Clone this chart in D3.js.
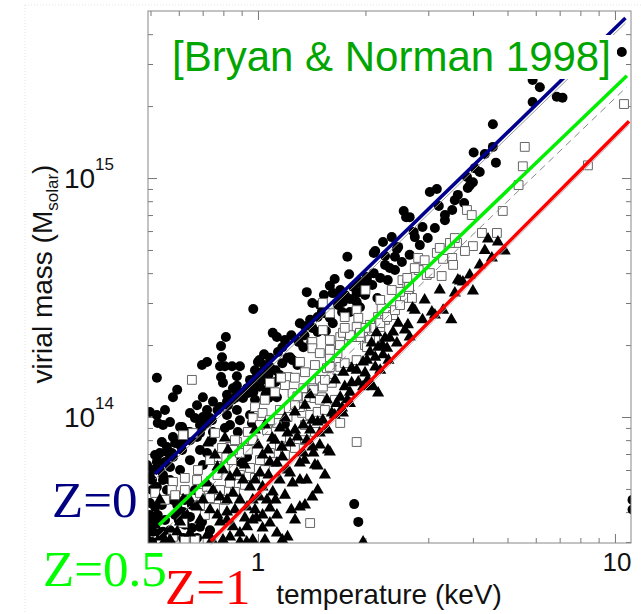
<!DOCTYPE html>
<html><head><meta charset="utf-8">
<script src="https://cdn.jsdelivr.net/npm/d3@7"></script>
<style>body{margin:0;background:#fff}</style>
</head><body>
<svg id="c" width="641" height="614"></svg>
<script>
// temperature (keV), virial mass (units of 1e14 M_solar)
const z0Points = [[10.45,33.7],[5.88,25.7],[6.16,24.0],[5.88,20.8],[6.87,21.9],[7.13,21.7],[4.55,16.8],[4.02,12.8],[4.32,12.6],[4.55,13.5],[4.64,11.6],[4.05,11.0],[3.85,10.1],[3.97,9.53],[3.87,9.08],[3.03,8.74],[3.17,9.0],[3.56,8.08],[3.78,7.86],[3.21,7.64],[2.56,7.28],[2.60,6.86],[3.34,6.66],[2.89,6.24],[2.73,5.95],[2.75,5.66],[2.24,5.40],[2.37,5.66],[2.13,4.95],[2.45,5.05],[2.42,4.68],[2.27,4.33],[2.34,4.20],[1.78,4.68],[2.11,4.0],[2.02,3.85],[1.93,3.67],[1.80,3.96],[1.64,3.78],[1.59,3.54],[1.70,3.40],[1.85,3.50],[1.89,3.30],[2.16,3.15],[1.37,3.33],[2.66,6.86],[2.47,5.15],[2.11,4.86],[2.27,4.72],[2.02,3.72],[1.93,2.88],[3.92,9.3],[4.0,9.6],
[1.53,3.24],[1.62,3.30],[1.70,3.18],[1.73,3.03],[1.81,3.12],[1.89,3.03],[1.95,3.34],[1.97,3.50],[1.49,2.94],[1.42,3.0],[1.81,2.75],[1.72,2.75],[0.97,2.83],[1.54,2.72],[1.59,2.60],[1.62,2.47],[1.47,2.62],[1.40,2.55],[1.42,2.36],[1.31,2.47],[1.47,2.27],[1.55,2.29],[1.10,2.25],[1.13,2.16],[1.17,1.96],[1.35,2.20],[1.41,2.06],[1.34,1.96],[1.04,1.83],[1.01,1.73],[1.04,1.65],[1.23,1.78],[1.25,1.73],[1.21,1.77],[1.17,1.68],[1.29,1.65],[1.08,1.62],[1.12,1.57],[1.15,1.50],[1.07,1.50],[0.99,1.47],[1.03,1.43],[1.12,1.40],[1.01,1.34],[0.97,1.27],[1.05,1.24],[1.07,1.20],[1.13,1.21],
[0.813,2.16],[0.788,1.98],[0.793,1.78],[0.697,1.65],[0.720,1.70],[0.783,1.63],[0.808,1.63],[0.846,1.63],[0.89,1.63],[1.0,1.70],[0.521,1.46],[0.788,1.47],[0.798,1.39],[0.873,1.48],[0.594,1.30],[0.578,1.21],[0.701,1.21],[0.873,1.35],[0.95,1.43],[0.932,1.32],[0.981,1.34],[0.819,1.24],[0.846,1.18],[0.873,1.24],[0.908,1.20],[0.937,1.26],[0.981,1.18],[0.675,1.12],
[0.967,1.39],[1.06,1.30],[0.851,1.32],[0.89,1.26],[0.819,1.16],[0.748,1.16],[0.521,1.02],[0.549,1.07],[0.542,0.926],[0.613,0.908],[0.633,0.866],[0.578,0.825],[0.701,1.0],[0.720,0.944],[0.688,0.857],[0.748,0.866],[0.531,0.707],[0.556,0.714],[0.521,0.68],[0.578,0.68],[0.567,0.618],[0.508,0.60],[0.542,0.572],[0.505,0.545],[0.521,0.51],[0.556,0.495],[0.498,0.437],[0.515,0.42],[0.578,0.45],[0.505,0.371],[0.531,0.327],[0.578,0.327],[0.617,0.312],[0.505,0.30],[0.645,0.382],[0.688,0.347],[0.675,0.312],
[0.498,1.05],[0.524,0.944],[0.567,0.952],[0.605,0.908],[0.645,1.04],[0.666,0.99],[0.72,1.07],[0.697,0.908],[0.743,0.97],[0.783,1.10],[0.819,1.02],[0.873,1.07],[0.89,0.97],[0.835,0.926],[0.95,1.02],[0.962,0.944],[0.878,0.866],[0.538,0.786],[0.556,0.749],[0.586,0.778],[0.617,0.786],[0.645,0.80],[0.675,0.825],[0.574,0.707],[0.613,0.728],[0.515,0.694],[0.489,0.63],[0.521,0.648],[0.549,0.648],[0.72,0.707],[0.701,0.63],[0.498,0.561],[0.542,0.545],[0.498,0.389],[0.524,0.389],[0.498,0.354],[0.508,0.331],[0.542,0.331],[0.60,0.371],[0.617,0.40],[0.697,0.364],[0.89,0.648],[0.932,0.68],
[1.19,0.935],[1.86,0.432],[1.91,0.364],[11.2,0.45],[11.2,0.41],
[0.531,0.60],[0.567,0.694],[0.605,0.763],[0.645,0.866],[0.688,0.926],[0.734,0.99],[0.77,1.07],[0.824,1.12],[0.862,1.20],[0.919,1.27],[0.505,0.495],[0.538,0.428],[0.549,0.371],[0.586,0.389],[0.624,0.354],[0.653,0.428],[0.594,0.428],[0.734,0.336],
[0.981,1.57],[1.026,1.54],[1.08,1.77],[1.138,1.87],[1.19,2.1],[1.24,2.2],[1.30,2.06],[1.354,2.4],[1.51,2.75],[1.675,2.94],[1.753,3.24],[1.87,3.09],[1.995,3.24],[2.09,3.57],[2.20,3.82],[2.31,3.74],[2.42,4.12],[2.53,4.45],[2.66,4.77],[2.84,5.24],[2.99,5.61],[3.13,6.18],[3.34,7.0],[3.50,7.35],[3.63,8.5],[4.18,10.6],
[0.567,0.545],[0.605,0.60],[0.645,0.66],[0.688,0.728],[0.743,0.80],[0.808,0.90],[0.624,0.45],[0.666,0.495],[0.531,0.371],[0.567,0.336],[0.653,0.343]];

const z05Points = [[10.6,20.4],[5.59,13.5],[5.52,11.2],[5.37,9.34],[4.85,7.28],[8.4,11.3],[3.85,7.35],[3.97,7.0],[4.24,5.89],[4.67,5.89],[3.61,5.35],[4.0,5.19],[3.80,4.95],[2.81,4.63],[3.17,4.86],[3.30,4.59],[3.50,4.63],[3.52,4.33],[2.82,4.12],[2.97,3.93],[3.27,3.89],[2.54,3.74],[2.62,3.64],[2.65,3.30],[2.58,3.15],[2.0,3.40],[3.45,5.35],[3.03,4.0],[2.62,3.82],[2.65,3.50],[2.50,3.34],[2.70,3.15],[2.22,2.86],[2.30,2.75],[2.39,2.67],[2.17,2.62],[2.27,2.55],[2.06,2.43],[2.13,2.36],[2.20,2.38],[1.995,2.36],[1.97,2.16],[2.03,2.06],[2.13,2.10],[1.995,2.0],[1.89,2.80],[1.75,2.62],[1.52,2.31],[1.70,2.16],[1.93,2.16],[1.42,2.06],[1.42,1.94],[1.49,1.85],[1.59,1.78],[1.67,1.85],[1.89,1.73],[1.78,1.62],[1.56,1.60],[1.67,1.57],[1.21,1.47],[1.49,1.43],[1.52,1.34],[1.61,1.39],[1.34,1.32],[1.42,1.32],[1.25,1.26],[1.29,1.22],[1.37,1.21],[1.44,1.20],[1.51,1.21],[0.967,0.99],[1.33,1.04],[1.40,1.02],[1.47,1.05],[1.70,0.944],[1.89,0.786],[1.40,0.36],[0.981,1.10],[1.03,1.04],[0.617,0.84],[0.657,0.857],[0.758,0.857],[0.835,0.749],[0.873,0.786],[0.908,0.742],[0.578,0.535],[0.574,0.495],[0.624,0.495],[0.688,0.481],[0.72,0.51],[0.770,0.572],[0.808,0.618],[0.846,0.66],[0.89,0.707],[0.937,0.728],[0.617,0.36],[0.624,0.303],[0.666,0.306],[0.578,0.315],[0.549,0.45],[0.515,0.481],[0.653,1.43],[0.675,0.545],[0.77,0.68],[0.851,0.728],[0.967,0.80],[1.06,0.882],[1.13,0.944],[1.21,1.0],[1.31,1.10],[1.43,1.30],[1.52,3.0],[1.59,2.72],[1.73,2.25],[1.83,2.16],[1.89,2.38],[1.93,2.25],[2.06,2.10],[2.20,2.47],[2.30,2.62],[2.42,2.80],[2.50,2.94],[2.02,1.96],[1.70,1.62],[1.75,1.68],[1.59,1.62],[1.54,1.43],[1.49,1.18],
[0.688,0.428],[0.734,0.458],[0.783,0.495],[0.835,0.53],[0.89,0.572],[0.95,0.612],[1.013,0.66],[1.08,0.707],[1.152,0.756],[1.229,0.817],[0.71,0.389],[0.758,0.416],[0.808,0.45],[0.862,0.486],[0.919,0.52],[0.981,0.556],[1.046,0.60],[1.116,0.648],[1.19,0.694],[1.269,0.742],[1.354,0.80],[1.444,0.866],[1.08,0.97],[1.152,1.07],[1.27,1.12],[1.354,0.926],[1.54,1.07],[1.643,1.18],
[1.046,1.18],[1.116,1.27],[1.19,1.36],[1.269,1.46],[1.354,1.54],[1.444,1.65],[1.591,1.91],[1.697,2.0],[1.81,2.2],[1.013,0.926],[0.937,0.866],[0.862,0.80],[0.793,0.742],[0.734,0.66],[0.679,0.60],[0.624,0.556],[0.586,0.471],
[1.08,1.39],[1.16,1.46],[1.311,1.70],[1.59,2.10],[1.75,2.36],[1.91,2.6],[2.2,3.09],[2.37,3.4],[2.75,4.2],[2.93,4.53],[3.23,5.1],[3.56,5.61]];

const z1Points = [[4.41,5.56],[4.70,5.40],[4.91,4.95],[4.52,4.63],[3.68,3.71],[4.0,3.37],[3.56,3.30],[3.63,3.74],[3.75,3.67],[3.07,2.75],[3.13,2.67],[3.30,2.80],[3.48,2.55],[2.89,2.55],[2.71,2.86],[2.47,2.47],[2.63,2.43],[2.58,2.31],[2.39,2.27],[2.34,2.14],[2.66,2.16],[2.45,2.04],[2.17,1.96],[2.30,1.94],[2.06,1.87],[2.13,1.78],[2.24,1.82],[2.32,1.73],[2.02,1.73],[2.13,1.62],[2.20,1.57],[1.995,1.53],[2.03,1.43],[2.10,1.34],[2.17,1.26],[1.97,1.34],[2.27,2.14],[2.15,2.25],[2.08,2.04],[2.23,2.0],[1.97,1.70],[1.89,1.57],[1.91,1.40],[2.06,1.36],[1.83,1.39],[1.75,1.34],[1.81,1.27],[1.70,1.21],[1.78,1.18],[1.66,1.14],[1.72,1.09],[1.56,1.18],[1.61,1.04],[1.52,0.97],[1.57,0.882],[1.49,0.857],[1.59,0.714],[1.34,0.926],[1.42,0.97],[1.47,0.952],[1.64,1.02],[1.73,1.04],[1.81,1.14],[1.21,0.857],[1.29,0.825],[1.23,0.778],[1.37,0.80],[1.42,0.749],[1.34,0.707],[1.35,0.66],[1.57,0.728],[1.47,0.624],[1.17,0.68],[1.13,0.642],[1.08,0.648],[1.23,0.583],[1.25,0.53],[1.15,0.545],[1.07,0.572],[1.03,0.51],[1.10,0.486],[1.01,0.463],[1.12,0.45],[1.24,0.409],[1.31,0.42],[1.13,0.389],[1.03,0.389],[1.08,0.36],[0.99,0.378],[1.03,0.343],[1.21,0.315],[0.967,0.306],[0.89,0.30],[0.93,0.30],[0.808,0.817],[0.724,0.778],[0.77,0.618],[0.798,0.60],[0.835,0.561],[0.873,0.583],[0.908,0.545],[0.95,0.51],[0.981,0.545],[0.72,0.53],[0.748,0.495],[0.783,0.463],[0.819,0.45],[0.851,0.481],[0.89,0.45],[0.932,0.42],[0.967,0.45],[0.645,0.45],[0.675,0.42],[0.701,0.45],[0.734,0.409],[0.77,0.389],[0.819,0.371],[0.851,0.347],[0.89,0.327],[0.932,0.347],[0.967,0.371],[0.617,0.45],[0.605,0.409],[0.594,0.331],[0.645,0.327],[0.72,0.32],[0.798,0.306],[0.835,0.315],[0.489,0.315],[0.531,0.315],[0.567,0.306],[0.531,0.45],[0.489,0.336],[0.819,0.40],[1.06,0.45],[1.17,0.306],[1.37,0.545],[1.43,0.707],[1.31,0.642],[1.21,0.60],[1.42,0.463],[1.97,0.30],
[0.758,0.694],[0.824,0.728],[0.919,0.63],[1.013,0.583],[1.03,0.694],[1.116,0.80],[1.167,0.749],[1.27,0.882],[1.40,0.882],[1.49,0.763],[1.444,0.63],[1.311,0.545],[1.19,0.471],[1.08,0.416],[0.981,0.409],[0.919,0.378],[0.862,0.409],[0.783,0.364],[0.743,0.306],[0.688,0.371],[0.633,0.389],[1.046,0.306],[1.13,0.327],[1.27,0.371],[1.354,0.428],[1.47,0.495],[1.54,0.572],
[0.981,0.882],[1.046,0.926],[1.096,0.817],[1.152,0.90],[1.0,0.763],[1.067,0.728],[1.19,0.99],[1.269,1.05],[1.354,1.12],[1.398,1.24],[1.643,1.43],[1.735,1.54],[1.83,1.60],[2.75,2.8],[2.93,3.09],[3.23,3.40],[3.92,3.93],[4.18,4.33],[4.32,4.97],[0.515,0.354],[0.549,0.306],[0.605,0.364]];

// Bryan & Norman relations (endpoints, T keV, M 1e14)
const lineZ0 = [[0.515,0.577],[10.7,46.7]];
const lineZ05 = [[0.528,0.353],[10.8,26.8]];
const lineZ1 = [[0.738,0.303],[10.95,17.3]];
const fitZ0 = [[0.515,0.55],[10.7,44.5]];
const fitZ05 = [[0.528,0.318],[10.8,24.1]];
const fitZ1 = [[0.738,0.292],[10.95,16.7]];

const xMajor = [1, 10];
const xMinor = [0.5,0.6,0.7,0.8,0.9,2,3,4,5,6,7,8,9];
const yMajor = [1, 10];            // 1e14, 1e15
const yMajorLabels = [["10","14"],["10","15"]];
const yMinor = [0.3,0.4,0.5,0.6,0.7,0.8,0.9,2,3,4,5,6,7,8,9,20,30,40];

const svg = d3.select('#c');
const W = 641, H = 614;
const L = 148, R = 631, T = 11, B = 543;
const x = d3.scaleLog().domain([0.492, 11.09]).range([L, R]);
const y = d3.scaleLog().domain([0.297, 50]).range([B, T]);

svg.append('rect').attr('width', W).attr('height', H).attr('fill', '#fff');
svg.append('rect').attr('x', 25).attr('y', 5).attr('width', 640).attr('height', 640)
  .attr('fill', 'none').attr('stroke', '#e4e4e4').attr('stroke-dasharray', '1,2');

svg.append('defs').append('clipPath').attr('id', 'clip')
  .append('rect').attr('x', L).attr('y', T).attr('width', R - L).attr('height', B - T);

function ticks(axisFn, scale, vals, size, tr) {
  const g = svg.append('g').attr('transform', tr)
    .call(axisFn(scale).tickValues(vals).tickSize(size).tickFormat(''));
  g.select('.domain').remove();
  g.selectAll('line').attr('stroke', '#777').attr('stroke-width', 1);
}
ticks(d3.axisBottom, x, xMajor, -9, `translate(0,${B})`);
ticks(d3.axisBottom, x, xMinor, -5, `translate(0,${B})`);
ticks(d3.axisTop, x, xMajor, -9, `translate(0,${T})`);
ticks(d3.axisTop, x, xMinor, -5, `translate(0,${T})`);
ticks(d3.axisLeft, y, yMajor, -9, `translate(${L},0)`);
ticks(d3.axisLeft, y, yMinor, -5, `translate(${L},0)`);
ticks(d3.axisRight, y, yMajor, -9, `translate(${R},0)`);
ticks(d3.axisRight, y, yMinor, -5, `translate(${R},0)`);

const pts = svg.append('g').attr('clip-path', 'url(#clip)');
pts.selectAll('circle.z0').data(z0Points).enter().append('circle')
  .attr('cx', d => x(d[0])).attr('cy', d => y(d[1])).attr('r', 5).attr('fill', '#000');
const sq = d3.symbol().type(d3.symbolSquare).size(78);
pts.selectAll('path.z05').data(z05Points).enter().append('path')
  .attr('d', sq).attr('transform', d => `translate(${x(d[0])},${y(d[1])})`)
  .attr('fill', '#fff').attr('stroke', '#666').attr('stroke-width', 1);
const tri = d3.symbol().type(d3.symbolTriangle).size(64);
pts.selectAll('path.z1').data(z1Points).enter().append('path')
  .attr('d', tri).attr('transform', d => `translate(${x(d[0])},${y(d[1])})`)
  .attr('fill', '#000');

const line = d3.line().x(d => x(d[0])).y(d => y(d[1]));
svg.append('path').datum(fitZ0).attr('d', line).attr('stroke', '#999').attr('stroke-width', 1).attr('fill', 'none');
svg.append('path').datum(fitZ05).attr('d', line).attr('stroke', '#888').attr('stroke-width', 1).attr('stroke-dasharray', '7,5').attr('fill', 'none');
svg.append('path').datum(fitZ1).attr('d', line).attr('stroke', '#bbb').attr('stroke-width', 1).attr('fill', 'none');
svg.append('path').datum(lineZ0).attr('d', line).attr('stroke', '#00008c').attr('stroke-width', 3.5).attr('fill', 'none');
svg.append('path').datum(lineZ05).attr('d', line).attr('stroke', '#00ee00').attr('stroke-width', 3.5).attr('fill', 'none');
svg.append('path').datum(lineZ1).attr('d', line).attr('stroke', '#ff0000').attr('stroke-width', 3.5).attr('fill', 'none');

svg.append('rect').attr('x', L).attr('y', T).attr('width', R - L).attr('height', B - T)
  .attr('fill', 'none').attr('stroke', '#888').attr('stroke-width', 1);

const sans = "'Liberation Sans', Arial, Helvetica, sans-serif";
yMajor.forEach((v, i) => {
  const t = svg.append('text').attr('x', 114).attr('y', y(v) + 10)
    .attr('text-anchor', 'end').attr('font-family', sans).attr('font-size', 28).attr('fill', '#111');
  t.append('tspan').text(yMajorLabels[i][0]);
  t.append('tspan').attr('font-size', 17).attr('dy', -18).text(yMajorLabels[i][1]);
});
xMajor.forEach(v => {
  svg.append('text').attr('x', x(v) + (v === 10 ? 2 : 0)).attr('y', 571).attr('text-anchor', 'middle')
    .attr('font-family', sans).attr('font-size', 26).attr('fill', '#111').text(String(v));
});

svg.append('text').attr('x', 389).attr('y', 604).attr('text-anchor', 'middle')
  .attr('font-family', sans).attr('font-size', 28).attr('fill', '#111').text('temperature (keV)');
const yl = svg.append('text').attr('transform', 'translate(52,274) rotate(-90)').attr('text-anchor', 'middle')
  .attr('font-family', sans).attr('font-size', 28).attr('fill', '#111');
yl.append('tspan').text('virial mass (M');
yl.append('tspan').attr('font-size', 17).attr('dy', 6).text('solar');
yl.append('tspan').attr('dy', -6).text(')');

svg.append('rect').attr('x', 166).attr('y', 35).attr('width', 451).attr('height', 44).attr('fill', '#fff');
svg.append('text').attr('x', 172).attr('y', 71).attr('font-family', sans).attr('font-size', 42)
  .attr('fill', '#00a500').text('[Bryan & Norman 1998]');

const serif = "'Liberation Serif', 'Times New Roman', serif";
svg.append('text').attr('x', 52).attr('y', 517).attr('font-family', serif).attr('font-size', 51).attr('fill', '#000080').text('Z=0');
svg.append('text').attr('x', 43).attr('y', 586).attr('font-family', serif).attr('font-size', 51).attr('fill', '#00ff00').text('Z=0.5');
svg.append('text').attr('x', 165).attr('y', 604).attr('font-family', serif).attr('font-size', 51).attr('fill', '#ff0000').text('Z=1');
</script>
</body></html>
